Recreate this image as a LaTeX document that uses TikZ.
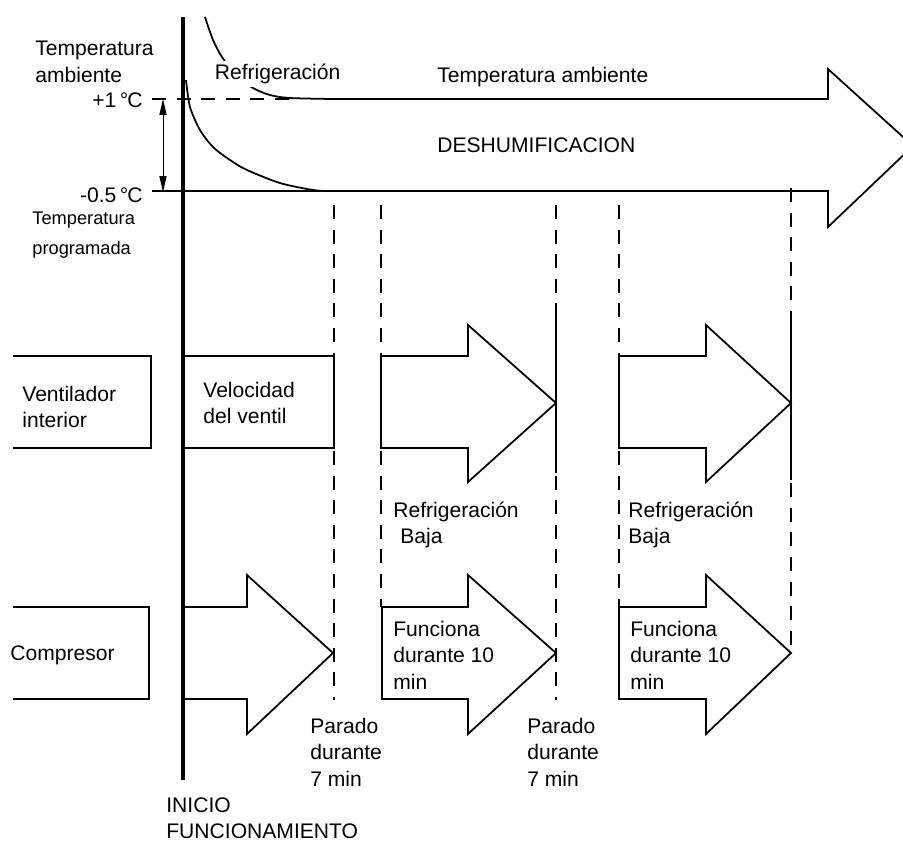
\documentclass[tikz,border=0pt]{standalone}
\usepackage{fontspec}
\setmainfont{Liberation Sans}
\usetikzlibrary{arrows.meta}

\begin{document}
\begin{tikzpicture}[
x=0.02cm, y=-0.02cm,
every node/.style={inner sep=0pt, anchor=west, align=left, font=\fontsize{12}{15}\selectfont},
outline/.style={line width=1pt, line join=miter},
guide/.style={line width=0.6pt, dash pattern=on 8pt off 6pt},
dim/.style={{Triangle[length=9pt,width=4pt]}-{Triangle[length=9pt,width=4pt]}, line width=0.5pt}
]
\clip (0,0) rectangle (903,842);

\foreach \x/\ya/\yb in {334/205/700, 381/205/607, 556/205/700, 619/205/607, 791/188/650}
  \draw[guide] (\x,\ya) -- (\x,\yb);
\draw[line width=0.6pt] (556,313) -- (556,473);
\draw[line width=0.6pt] (791,320) -- (791,480);

\draw[guide] (152,99) -- (290,99);
\draw[outline] (152,191) -- (828,191) -- (828,227) -- (913,146) -- (828,69) -- (828,99) -- (330,99);
\draw[outline] plot[smooth] coordinates {(205,17) (213,40) (222,57) (236,75) (253,88) (270,95) (290,98) (333,99)};
\draw[outline] plot[smooth] coordinates {(186,80) (190,107) (200,130) (213,147) (230,160) (247,170) (280,183) (313,190) (330,191)};

\coordinate (hi) at (163,99);
\coordinate (lo) at (163,192);
\draw[dim] (hi) -- (lo);

\draw[outline] (13,356) -- (151,356) -- (151,448) -- (13,448);
\draw[outline] (183,356) -- (334,356) -- (334,448) -- (183,448);
\foreach \a/\b/\c in {381/468/556, 619/706/791}
  \draw[outline] (\a,356) -- (\b,356) -- (\b,325) -- (\c,403) -- (\b,482) -- (\b,448) -- (\a,448) -- cycle;

\draw[outline] (13,607) -- (149,607) -- (149,699) -- (13,699);
\draw[outline] (183,607) -- (247,607) -- (247,575) -- (333,653) -- (247,734) -- (247,699) -- (183,699);
\foreach \a/\b/\c in {382/468/556, 619/706/791}
  \draw[outline] (\a,607) -- (\b,607) -- (\b,575) -- (\c,653) -- (\b,734) -- (\b,699) -- (\a,699) -- cycle;

\draw[line width=2.5pt] (183,17) -- (183,780);

\node (tempamb) at (35,62) {Temperatura\\ambiente};
\node (plusone) [anchor=east] at (143,100) {+1\kern2pt°\kern-0.5ptC};
\node (minushalf) [anchor=east] at (143,195) {-0.5\kern2pt°\kern-0.5ptC};
\node (tempprog) [font=\fontsize{10.4}{17}\selectfont] at (32,235) {Temperatura\\programada};
\node (refrig) [fill=white, inner sep=2pt] at (211,74) {Refrigeración};
\node (tempamb2) at (437,77) {Temperatura ambiente};
\node (deshum) at (437,145) {DESHUMIFICACION};

\node (ventlbl) at (22,407) {Ventilador\\interior};
\node (velvent) at (203,403) {Velocidad\\del ventil};
\node (refbaja1) at (393,525) {Refrigeración\\\hspace*{4pt}Baja};
\node (refbaja2) at (628,525) {Refrigeración\\Baja};

\node (complbl) at (10,655) {Compresor};
\node (func1) at (393,655) {Funciona\\durante 10\\min};
\node (func2) at (630,655) {Funciona\\durante 10\\min};
\node (parado1) at (310,752) {Parado\\durante\\7 min};
\node (parado2) at (527,752) {Parado\\durante\\7 min};
\node (inicio) at (166,818) {INICIO\\FUNCIONAMIENTO};

\end{tikzpicture}
\end{document}
